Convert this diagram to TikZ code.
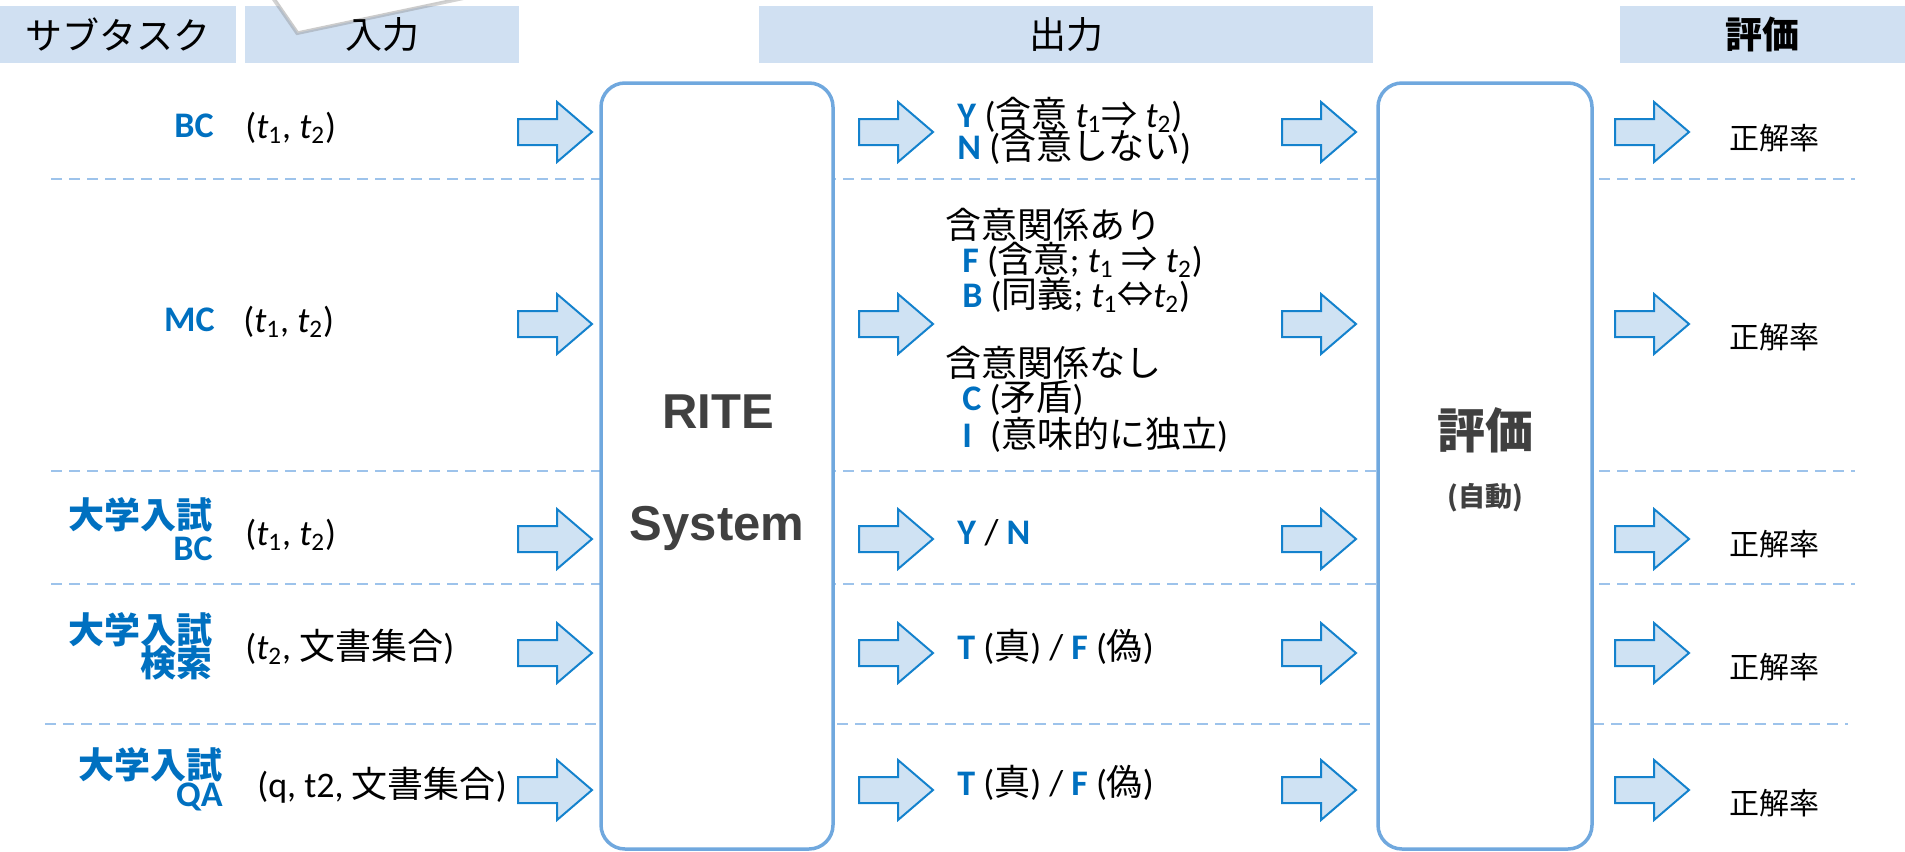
\documentclass[tikz,border=0pt]{standalone}
\usepackage{fontspec}
\setmainfont{Carlito}
\newfontfamily\jp{Noto Sans CJK JP}
\newfontfamily\arialf{Liberation Sans}
\usetikzlibrary{shadows}
\definecolor{hdr}{RGB}{208,224,242}
\definecolor{afill}{RGB}{207,226,243}
\definecolor{aline}{RGB}{20,130,205}
\definecolor{boxline}{RGB}{112,168,222}
\definecolor{sepc}{RGB}{157,195,235}
\definecolor{lbl}{RGB}{0,112,192}
\definecolor{dgray}{RGB}{64,64,64}
\newcommand\tsub[1]{\textit{t}\textsubscript{#1}}
\newcommand\bl[1]{\textcolor{lbl}{\textbf{#1}}}
\begin{document}
\begin{tikzpicture}[x=0.5pt,y=-0.5pt,
  hbar/.style={fill=hdr, minimum height=28.5pt, inner sep=0pt, font=\fontsize{18.5}{20}\selectfont\jp},
  sepline/.style={draw=sepc, line width=1.25pt, dash pattern=on 5.5pt off 3.5pt},
  sysbox/.style={draw=boxline, fill=white, line width=1.75pt, rounded corners=12pt, inner sep=0pt, minimum height=383pt},
  txt/.style={anchor=west, inner sep=0pt, font=\fontsize{18}{20}\selectfont},
  lab/.style={anchor=east, inner sep=0pt, text=lbl, font=\fontsize{18}{20}\selectfont\bfseries},
  res/.style={anchor=west, inner sep=0pt, font=\fontsize{15}{17}\selectfont\jp},
  blockarrow/.pic={\draw[draw=aline, fill=afill, line width=1pt, line join=miter]
     (0,-13) -- (39,-13) -- (39,-30) -- (74,0) -- (39,30) -- (39,13) -- (0,13) -- cycle;}
]
\useasboundingbox (0,0) rectangle (1905,851);

% header bars
\node[hbar, minimum width=118pt] (hsub) at (118,34.5) {サブタスク};
\node[hbar, minimum width=137pt] (hin) at (382,34.5) {};
\node[hbar, minimum width=307pt] (hout) at (1066,34.5) {出力};
\node[hbar, minimum width=142.5pt, font=\fontsize{18.5}{20}\selectfont\jp\bfseries] (hev) at (1762.5,34.5) {評価};

% callout corner at top
\filldraw[fill=white, draw=gray!40, line width=0.8pt,
  drop shadow={shadow xshift=-0.8pt, shadow yshift=-1.6pt, opacity=0.35, fill=gray}]
  (262,-20) -- (298,32) -- (500,-10.5) -- (500,-20) -- cycle;
\node[inner sep=0pt, font=\fontsize{18.5}{20}\selectfont\jp] (hintext) at (382,34.5) {入力};

% dashed separators
\draw[sepline] (51,179) -- (1855,179);
\draw[sepline] (51,471) -- (1855,471);
\draw[sepline] (51,584) -- (1855,584);
\draw[sepline] (45,724) -- (1848,724);

% system boxes
\node[sysbox, minimum width=116pt] (rite) at (717,466) {};
\node[sysbox, minimum width=107pt] (evalbox) at (1485,466) {};
\node[inner sep=0pt, text=dgray, font=\fontsize{24.5}{26}\selectfont\arialf\bfseries] (rite1) at (718,412) {RITE};
\node[inner sep=0pt, text=dgray, font=\fontsize{24.5}{26}\selectfont\arialf\bfseries] (rite2) at (717,528) {System};
\node[inner sep=0pt, text=dgray, font=\fontsize{24}{26}\selectfont\jp\bfseries] (ev1) at (1485,430) {評価};
\node[inner sep=0pt, text=dgray, font=\fontsize{13.5}{15}\selectfont\jp\bfseries] (ev2) at (1485,498) {(自動)};

% block arrows
\foreach \y in {132,324,539,653,790}{
  \foreach \x in {518,859,1282,1615}{
    \pic at (\x,\y) {blockarrow};
  }
}

% sub-task labels
\node[lab] (l1) at (214,126) {BC};
\node[lab] (l2) at (215,320) {MC};
\node[lab] (l3a) at (213,515) {\jp\bfseries 大学入試};
\node[lab] (l3b) at (213,549) {BC};
\node[lab] (l4a) at (213,630) {\jp\bfseries 大学入試};
\node[lab] (l4b) at (213,663) {\jp\bfseries 検索};
\node[lab] (l5a) at (223,765) {\jp\bfseries 大学入試};
\node[lab] (l5b) at (223,797) {QA};

% inputs
\node[txt] (i1) at (245,128) {(\tsub{1}, \tsub{2})};
\node[txt] (i2) at (243,322) {(\tsub{1}, \tsub{2})};
\node[txt] (i3) at (245,535) {(\tsub{1}, \tsub{2})};
\node[txt] (i4) at (245,647) {(\tsub{2}, {\jp 文書集合})};
\node[txt] (i5) at (257,785) {(q, t2, {\jp 文書集合})};

% outputs
\node[txt] (o1a) at (957,115) {\bl{Y} ({\jp 含意} \tsub{1}{\jp ⇒} \tsub{2})};
\node[txt] (o1b) at (957,147) {\bl{N} ({\jp 含意しない})};
\node[txt] (o2a) at (945,225) {\jp 含意関係あり};
\node[txt] (o2b) at (962,260) {\bl{F} ({\jp 含意}; \tsub{1} {\jp ⇒}\ \tsub{2})};
\node[txt] (o2c) at (962,295) {\bl{B} ({\jp 同義}; \tsub{1}{\jp ⇔}\tsub{2})};
\node[txt] (o2d) at (945,363) {\jp 含意関係なし};
\node[txt] (o2e) at (962,398) {\bl{C} ({\jp 矛盾})};
\node[txt] (o2f) at (962,435) {\bl{I}\hspace{5pt} ({\jp 意味的に独立})};
\node[txt] (o3) at (957,533) {\bl{Y} / \bl{N}};
\node[txt] (o4) at (957,647) {\bl{T} ({\jp 真}) / \bl{F} ({\jp 偽})};
\node[txt] (o5) at (957,783) {\bl{T} ({\jp 真}) / \bl{F} ({\jp 偽})};

% results
\node[res] (r1) at (1729,138) {正解率};
\node[res] (r2) at (1729,337) {正解率};
\node[res] (r3) at (1729,544) {正解率};
\node[res] (r4) at (1729,667) {正解率};
\node[res] (r5) at (1729,803) {正解率};
\end{tikzpicture}
\end{document}
